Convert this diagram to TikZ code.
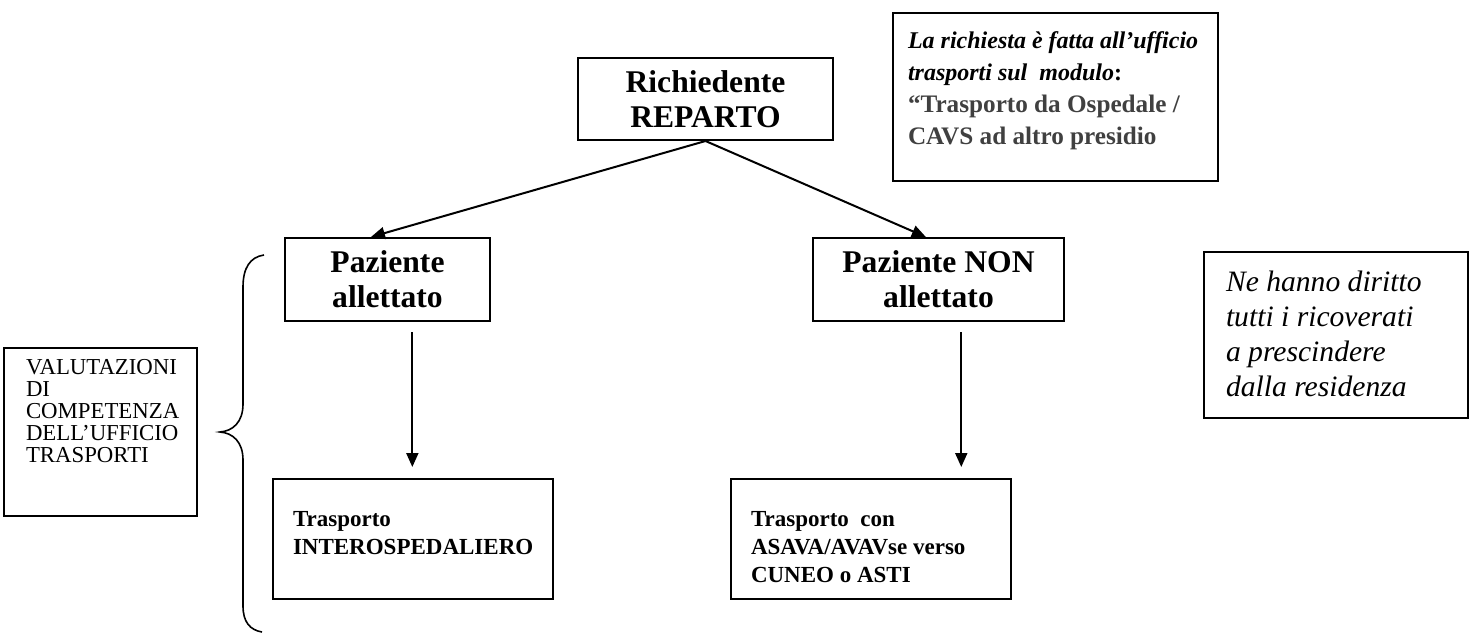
\documentclass[tikz,border=0pt]{standalone}
\usepackage{fontspec}
\setmainfont{Liberation Serif}
\usetikzlibrary{arrows.meta,calc}
\definecolor{greytext}{RGB}{64,64,64}
\newcommand{\tboxcontent}[3]{\parbox[c][#2][t]{#1}{\raggedright #3}}
\begin{document}
\begin{tikzpicture}[x=0.5pt,y=-0.5pt,
  boxline/.style={draw=black,line width=1pt,inner sep=0pt,fill=white},
  ctrbox/.style={boxline,align=center,font=\fontsize{15.8}{17.5}\selectfont\bfseries},
  conn/.style={line width=1pt,-{Triangle[length=7pt,width=6pt]}},
  bracestyle/.style={line width=0.8pt}]
\useasboundingbox (0,0) rectangle (1472,632);
\fill[white] (0,0) rectangle (1472,632);

% top boxes
\node[ctrbox,minimum width=127.5pt,minimum height=41pt] (rich) at (705.5,99) {Richiedente\\REPARTO};

\node[boxline,anchor=north west,inner xsep=7.5pt,inner ysep=9.5pt] (req) at (892,12)
  {\tboxcontent{147.5pt}{65pt}{\fontsize{12}{16}\selectfont\bfseries
   \mbox{\textit{La richiesta è fatta all’ufficio}}\\
   \mbox{\textit{trasporti sul\ \ modulo}:}\\
   \fontsize{12.6}{16}\selectfont
   \mbox{\textcolor{greytext}{“Trasporto da Ospedale /}}\\
   \mbox{\textcolor{greytext}{CAVS ad altro presidio}}}};

% patient boxes
\node[ctrbox,minimum width=102.5pt,minimum height=41.5pt] (pa) at (387.5,279.5) {Paziente\\allettato};
\node[ctrbox,minimum width=125.5pt,minimum height=41.5pt] (pn) at (938.5,279.5) {Paziente NON\\allettato};

% note box
\node[boxline,anchor=north west,inner xsep=11pt,inner ysep=9.5pt] (note) at (1203,251)
  {\tboxcontent{110pt}{64pt}{\fontsize{14.8}{17.5}\selectfont\itshape
   \mbox{Ne hanno diritto}\\ \mbox{tutti i ricoverati}\\ \mbox{a prescindere}\\ \mbox{dalla residenza}}};

% left box
\node[boxline,anchor=north west,inner xsep=11pt,inner ysep=5.5pt] (val) at (3,347)
  {\tboxcontent{74.5pt}{73pt}{\fontsize{11.4}{11}\selectfont
   \mbox{VALUTAZIONI}\\ DI\\ \mbox{COMPETENZA}\\ \mbox{DELL’UFFICIO}\\ \mbox{TRASPORTI}}};

% bottom boxes
\node[boxline,anchor=north west,inner xsep=10pt,inner ysep=16pt] (ti) at (272,478)
  {\tboxcontent{120pt}{28pt}{\fontsize{11.5}{14}\selectfont\bfseries
   Trasporto\\ \mbox{INTEROSPEDALIERO}}};
\node[boxline,anchor=north west,inner xsep=10pt,inner ysep=16pt] (tc) at (730,478)
  {\tboxcontent{120pt}{28pt}{\fontsize{11.5}{14}\selectfont\bfseries
   \mbox{Trasporto\ \ con}\\ \mbox{ASAVA/AVAVse verso}\\ \mbox{CUNEO o ASTI}}};

% connectors
\draw[conn] (rich.south) -- ($(pa.north west)!0.42!(pa.north east)$);
\draw[conn] (rich.south) -- ($(pn.north west)!0.45!(pn.north east)$);
\coordinate (a1) at ($(pa.south west)!0.62!(pa.south east)$);
\coordinate (a2) at ($(pn.south west)!0.59!(pn.south east)$);
\draw[conn] ($(a1)+(0,10)$) -- ($(a1 |- ti.north)+(0,-11)$);
\draw[conn] ($(a2)+(0,10)$) -- ($(a2 |- tc.north)+(0,-11)$);

% brace
\draw[bracestyle] (264,255) .. controls (250,257) and (243,268) .. (243,287)
  -- (243,404) .. controls (243,422) and (233,431) .. (220,432)
  .. controls (233,433) and (243,442) .. (243,460)
  -- (243,606) .. controls (243,622) and (250,630) .. (262,632);
\end{tikzpicture}
\end{document}
